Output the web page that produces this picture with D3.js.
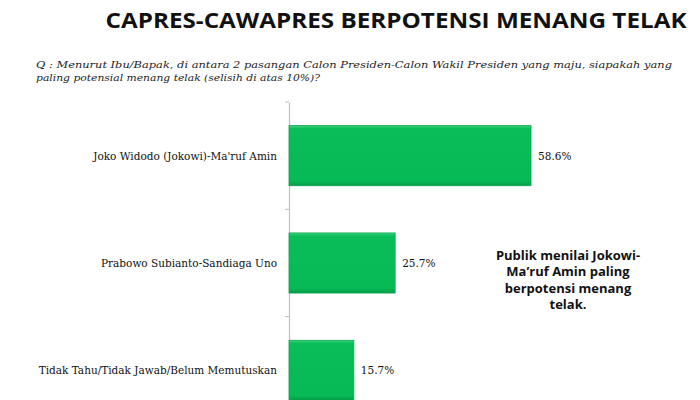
<!DOCTYPE html>
<html><head><meta charset="utf-8">
<script src="https://cdn.jsdelivr.net/npm/d3@7"></script>
<style>body{margin:0;background:#fff}svg{display:block}</style>
</head><body>
<script>
const categories = ["Joko Widodo (Jokowi)-Ma'ruf Amin", "Prabowo Subianto-Sandiaga Uno", "Tidak Tahu/Tidak Jawab/Belum Memutuskan"];
const values = [58.6, 25.7, 15.7];
const valueLabels = ["58.6%", "25.7%", "15.7%"];
const title = "CAPRES-CAWAPRES BERPOTENSI MENANG TELAK";
const questionLines = ["Q : Menurut Ibu/Bapak, di antara 2 pasangan Calon Presiden-Calon Wakil Presiden yang maju, siapakah yang", "paling potensial menang telak (selisih di atas 10%)?"];
const noteLines = ["Publik menilai Jokowi-", "Ma\u2019ruf Amin paling", "berpotensi menang", "telak."];

const W = 700, H = 400;
const svg = d3.select("body").append("svg").attr("width", W).attr("height", H);

const defs = svg.append("defs");
const grad = defs.append("linearGradient").attr("id", "g").attr("x1", 0).attr("y1", 0).attr("x2", 0).attr("y2", 1);
grad.append("stop").attr("offset", "0%").attr("stop-color", "#3fd57f");
grad.append("stop").attr("offset", "5%").attr("stop-color", "#0abd59");
grad.append("stop").attr("offset", "92%").attr("stop-color", "#07ba56");
grad.append("stop").attr("offset", "100%").attr("stop-color", "#079a48");

svg.append("text").attr("x", 396).attr("y", 28).attr("text-anchor", "middle")
  .attr("font-family", "'Open Sans', sans-serif").attr("font-weight", 700).attr("font-size", 21)
  .attr("textLength", 581).attr("lengthAdjust", "spacingAndGlyphs")
  .attr("fill", "#111").text(title);

const qLens = [636, 284];
svg.selectAll("text.q").data(questionLines).join("text").attr("class", "q")
  .attr("x", 36).attr("y", (d, i) => 68 + i * 12.5)
  .attr("font-family", "'DejaVu Serif', serif").attr("font-style", "italic").attr("font-size", 10)
  .attr("fill", "#222")
  .attr("textLength", (d, i) => qLens[i]).attr("lengthAdjust", "spacingAndGlyphs")
  .text(d => d);

const x0 = 289;
const x = d3.scaleLinear().domain([0, 100]).range([x0, x0 + 413]);
const y = d3.scaleBand().domain(categories).range([102, 424]).paddingInner(0.44).paddingOuter(0.22);

const axis = d3.axisLeft(y).tickSize(0).tickFormat("");
const ag = svg.append("g").attr("transform", `translate(${x0},0)`).call(axis);
ag.select(".domain").attr("stroke", "#bfbfbf").attr("stroke-width", 1.2);
// category boundary ticks
const step = y.step();
const bounds = categories.map((c) => y(c) - y.paddingInner() * step / 2);
bounds[0] = 102;
svg.selectAll("line.tk").data(bounds).join("line").attr("class", "tk")
  .attr("x1", x0 - 4).attr("x2", x0).attr("y1", d => d).attr("y2", d => d)
  .attr("stroke", "#bfbfbf");

svg.selectAll("rect.bar").data(values).join("rect").attr("class", "bar")
  .attr("x", x(0)).attr("y", (d, i) => y(categories[i]))
  .attr("width", d => x(d) - x(0)).attr("height", y.bandwidth())
  .attr("fill", "url(#g)").attr("stroke", "#0aa54f").attr("stroke-width", 0.8);

svg.selectAll("text.cat").data(categories).join("text").attr("class", "cat")
  .attr("x", 277).attr("y", d => y(d) + y.bandwidth() / 2 + 4)
  .attr("text-anchor", "end").attr("font-family", "'DejaVu Serif', serif").attr("font-size", 10.5)
  .attr("fill", "#111").text(d => d);

svg.selectAll("text.val").data(values).join("text").attr("class", "val")
  .attr("x", d => x(d) + 7).attr("y", (d, i) => y(categories[i]) + y.bandwidth() / 2 + 4)
  .attr("font-family", "'DejaVu Serif', serif").attr("font-size", 10.5)
  .attr("fill", "#111").text((d, i) => valueLabels[i]);

svg.selectAll("text.note").data(noteLines).join("text").attr("class", "note")
  .attr("x", 568).attr("y", (d, i) => 260 + i * 16.4).attr("text-anchor", "middle")
  .attr("font-family", "'Open Sans', sans-serif").attr("font-weight", 700).attr("font-size", 13)
  .attr("fill", "#111").text(d => d);
</script>
</body></html>
